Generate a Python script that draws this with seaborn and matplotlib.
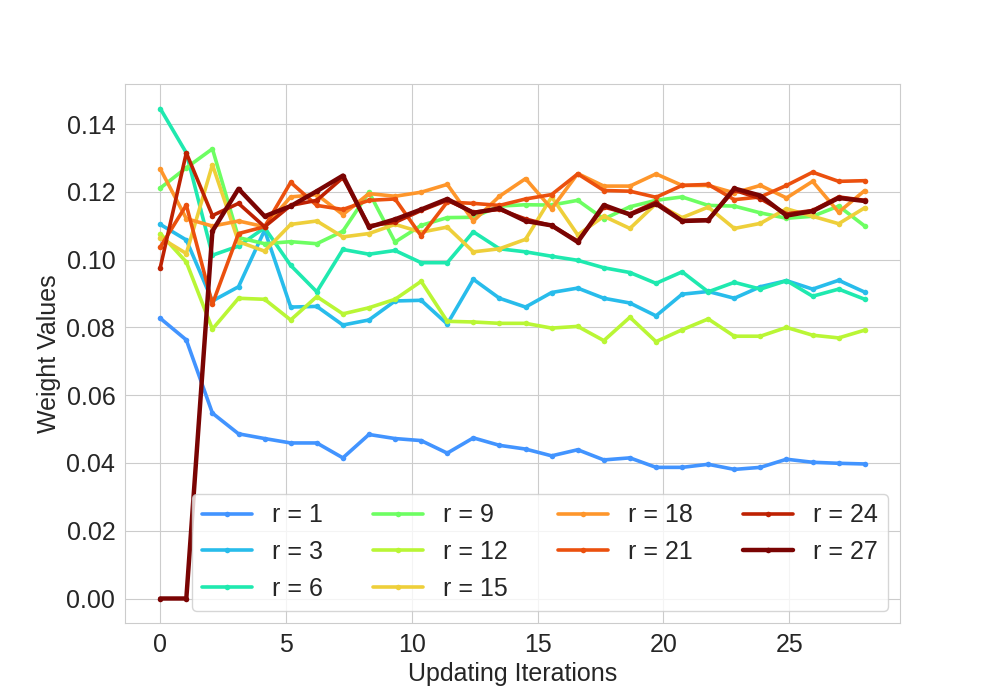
import numpy as np
import pandas as pd
import seaborn as sns
import matplotlib.pyplot as plt
from matplotlib import cm

# x positions: 28 updates spread over 0..28
iterations = np.linspace(0, 28, 28)

r_values = [1, 3, 6, 9, 12, 15, 18, 21, 24, 27]

w_r1 = [0.0827, 0.0763, 0.0547, 0.0486, 0.0472, 0.0459, 0.0459, 0.0415, 0.0484, 0.0472,
        0.0466, 0.0429, 0.0474, 0.0452, 0.0441, 0.0421, 0.0439, 0.0409, 0.0415, 0.0387,
        0.0387, 0.0396, 0.0381, 0.0387, 0.0411, 0.0402, 0.0399, 0.0397]
w_r3 = [0.1104, 0.1058, 0.0878, 0.0920, 0.1087, 0.0860, 0.0862, 0.0807, 0.0822, 0.0878,
        0.0880, 0.0810, 0.0942, 0.0886, 0.0860, 0.0903, 0.0916, 0.0886, 0.0872, 0.0834,
        0.0898, 0.0906, 0.0886, 0.0920, 0.0938, 0.0913, 0.0939, 0.0904]
w_r6 = [0.1446, 0.1315, 0.1013, 0.1040, 0.1094, 0.0983, 0.0905, 0.1030, 0.1016, 0.1027,
        0.0991, 0.0991, 0.1082, 0.1032, 0.1023, 0.1010, 0.0998, 0.0976, 0.0962, 0.0930,
        0.0964, 0.0905, 0.0933, 0.0913, 0.0938, 0.0892, 0.0913, 0.0883]
w_r9 = [0.1211, 0.1271, 0.1327, 0.1065, 0.1047, 0.1053, 0.1047, 0.1084, 0.1199, 0.1052,
        0.1101, 0.1124, 0.1125, 0.1158, 0.1162, 0.1161, 0.1175, 0.1120, 0.1156, 0.1175,
        0.1185, 0.1160, 0.1158, 0.1138, 0.1122, 0.1128, 0.1158, 0.1099]
w_r12 = [0.1077, 0.0993, 0.0795, 0.0886, 0.0883, 0.0822, 0.0891, 0.0840, 0.0858, 0.0883,
         0.0936, 0.0818, 0.0816, 0.0812, 0.0812, 0.0798, 0.0803, 0.0761, 0.0830, 0.0758,
         0.0793, 0.0825, 0.0774, 0.0774, 0.0800, 0.0777, 0.0769, 0.0792]
w_r15 = [0.1065, 0.1018, 0.1280, 0.1053, 0.1025, 0.1104, 0.1114, 0.1067, 0.1077, 0.1104,
         0.1081, 0.1096, 0.1023, 0.1032, 0.1060, 0.1185, 0.1073, 0.1128, 0.1092, 0.1165,
         0.1124, 0.1155, 0.1092, 0.1107, 0.1150, 0.1128, 0.1106, 0.1153]
w_r18 = [0.1268, 0.1121, 0.1099, 0.1114, 0.1097, 0.1185, 0.1192, 0.1133, 0.1195, 0.1187,
         0.1199, 0.1222, 0.1114, 0.1187, 0.1239, 0.1150, 0.1254, 0.1217, 0.1217, 0.1253,
         0.1219, 0.1219, 0.1197, 0.1219, 0.1182, 0.1231, 0.1140, 0.1204]
w_r21 = [0.1037, 0.1161, 0.0869, 0.1077, 0.1097, 0.1228, 0.1160, 0.1148, 0.1175, 0.1179,
         0.1070, 0.1170, 0.1166, 0.1160, 0.1179, 0.1192, 0.1253, 0.1204, 0.1202, 0.1184,
         0.1219, 0.1222, 0.1177, 0.1185, 0.1219, 0.1258, 0.1231, 0.1233]
w_r24 = [0.0976, 0.1315, 0.1130, 0.1166, 0.1097, 0.1160, 0.1175, 0.1242, 0.1100, 0.1110,
         0.1145, 0.1175, 0.1140, 0.1148, 0.1120, 0.1100, 0.1055, 0.1155, 0.1135, 0.1170,
         0.1115, 0.1118, 0.1205, 0.1180, 0.1135, 0.1145, 0.1185, 0.1175]
w_r27 = [0.0000, 0.0000, 0.1084, 0.1209, 0.1128, 0.1158, 0.1202, 0.1248, 0.1096, 0.1119,
         0.1148, 0.1179, 0.1138, 0.1151, 0.1114, 0.1101, 0.1052, 0.1161, 0.1133, 0.1165,
         0.1114, 0.1116, 0.1210, 0.1189, 0.1130, 0.1143, 0.1182, 0.1173]

weights = [w_r1, w_r3, w_r6, w_r9, w_r12, w_r15, w_r18, w_r21, w_r24, w_r27]

# long format for seaborn
rows = []
for r, w in zip(r_values, weights):
    for it, val in zip(iterations, w):
        rows.append({'iter': it, 'weight': val, 'r': f'r = {r}'})
df = pd.DataFrame(rows)

sns.set_style('whitegrid')
plt.rcParams['font.family'] = ['Liberation Sans', 'DejaVu Sans']

# turbo colours, mapped on r
colors = cm.turbo([(r + 5) / 32 for r in r_values])

fig, ax = plt.subplots(figsize=(10, 7), dpi=100)

for i, r in enumerate(r_values):
    lab = f'r = {r}'
    sub = df[df['r'] == lab]
    lw = 3.2 if r == 27 else 2.6
    sns.lineplot(data=sub, x='iter', y='weight', color=colors[i], label=lab,
                 marker='o', markersize=4, markeredgewidth=0, linewidth=lw, ax=ax)

ax.set_xlabel('Updating Iterations', fontsize=18)
ax.set_ylabel('Weight Values', fontsize=18)
ax.tick_params(labelsize=18)
ax.legend(ncol=4, loc='lower right', fontsize=18)

plt.savefig('out.png')
